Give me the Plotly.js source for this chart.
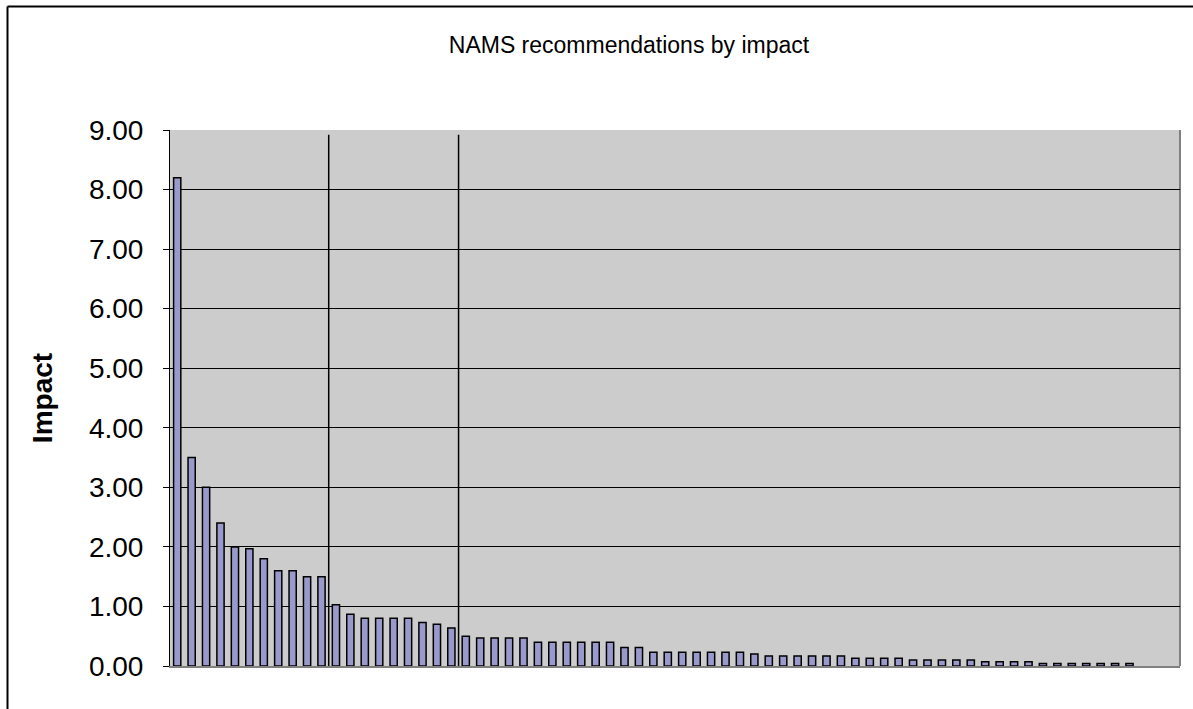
<!DOCTYPE html>
<html>
<head>
<meta charset="utf-8">
<script src="https://cdn.plot.ly/plotly-3.0.1.min.js"></script>
<style>
  html, body { margin: 0; padding: 0; background: #ffffff; }
  #chart { width: 1193px; height: 709px; }
</style>
</head>
<body>
<div id="chart"></div>
<script>
// Impact of each recommendation, sorted descending (70 categories, last three empty)
const impact = [
  8.2, 3.5, 3.0, 2.4, 2.0, 1.97, 1.8, 1.6, 1.6, 1.5,
  1.5, 1.03, 0.87, 0.8, 0.8, 0.8, 0.8, 0.73, 0.7, 0.64,
  0.5, 0.47, 0.47, 0.47, 0.47, 0.4, 0.4, 0.4, 0.4, 0.4,
  0.4, 0.31, 0.31, 0.23, 0.23, 0.23, 0.23, 0.23, 0.23, 0.23,
  0.2, 0.17, 0.17, 0.17, 0.17, 0.17, 0.17, 0.13, 0.13, 0.13,
  0.13, 0.1, 0.1, 0.1, 0.1, 0.1, 0.07, 0.07, 0.07, 0.07,
  0.04, 0.04, 0.04, 0.04, 0.04, 0.04, 0.04, null, null, null
];
const recommendations = impact.map((_, i) => i);
// group dividers (between recommendation 11|12 and 20|21)
const dividers = [10.5, 19.5];
const dividerTop = 8.92;
const yTicks = [0, 1, 2, 3, 4, 5, 6, 7, 8, 9];

const W = 1193, H = 709;
const L = 170, R = 13, T = 130, B = 43;
const pw = W - L - R, ph = H - T - B;
const px = (x) => (x - L) / pw;
const py = (y) => (H - B - y) / ph;

const shapes = dividers.map(d => ({
  type: 'line', xref: 'x', yref: 'y', x0: d, x1: d, y0: 0, y1: dividerTop,
  line: { color: '#000000', width: 1.5 }, layer: 'above'
}));
// chart-area border (left and top)
shapes.push({ type: 'line', xref: 'paper', yref: 'paper',
  x0: px(7.5), x1: px(7.5), y0: py(720), y1: py(6.5),
  line: { color: '#000000', width: 2 } });
shapes.push({ type: 'line', xref: 'paper', yref: 'paper',
  x0: px(7.5), x1: px(1200), y0: py(6.5), y1: py(6.5),
  line: { color: '#000000', width: 2 } });
// plot-area right grey edge
shapes.push({ type: 'line', xref: 'paper', yref: 'paper',
  x0: 1, x1: 1, y0: 0, y1: 1, line: { color: '#808080', width: 2 }, layer: 'below' });

const trace = {
  type: 'bar',
  x: recommendations,
  y: impact,
  marker: { color: '#9999cc', line: { color: '#000000', width: 1.5 } },
  hoverinfo: 'y'
};

const layout = {
  width: W, height: H,
  margin: { l: L, r: R, t: T, b: B, pad: 0 },
  paper_bgcolor: '#ffffff',
  plot_bgcolor: '#cccccc',
  bargap: 0.5,
  showlegend: false,
  font: { family: 'Liberation Sans, Arial, sans-serif', color: '#000000' },
  title: {
    text: 'NAMS recommendations by impact',
    font: { size: 23, family: 'Liberation Sans, Arial, sans-serif', color: '#000000' },
    xref: 'paper', x: px(629), xanchor: 'center',
    yref: 'container', y: 1 - 45 / H, yanchor: 'middle'
  },
  xaxis: {
    type: 'linear',
    range: [-0.5, 69.5],
    showticklabels: false,
    ticks: '',
    showgrid: false,
    zeroline: false,
    showline: true, linecolor: '#808080', linewidth: 2,
    fixedrange: true
  },
  yaxis: {
    range: [0, 9],
    tickvals: yTicks,
    ticktext: yTicks.map(v => v.toFixed(2)),
    ticks: 'outside', ticklen: 6, tickwidth: 1, tickcolor: '#000000',
    ticklabelstandoff: 14,
    tickfont: { size: 28, family: 'Liberation Sans, Arial, sans-serif', color: '#000000' },
    showline: true, linecolor: '#000000', linewidth: 1,
    showgrid: true, gridcolor: '#000000', gridwidth: 1,
    zeroline: false,
    title: {
      text: '<b>Impact</b>',
      font: { size: 28, family: 'Liberation Sans, Arial, sans-serif', color: '#000000' },
      standoff: 28
    },
    fixedrange: true
  },
  shapes: shapes
};

Plotly.newPlot('chart', [trace], layout, { displayModeBar: false, staticPlot: true });
</script>
</body>
</html>
